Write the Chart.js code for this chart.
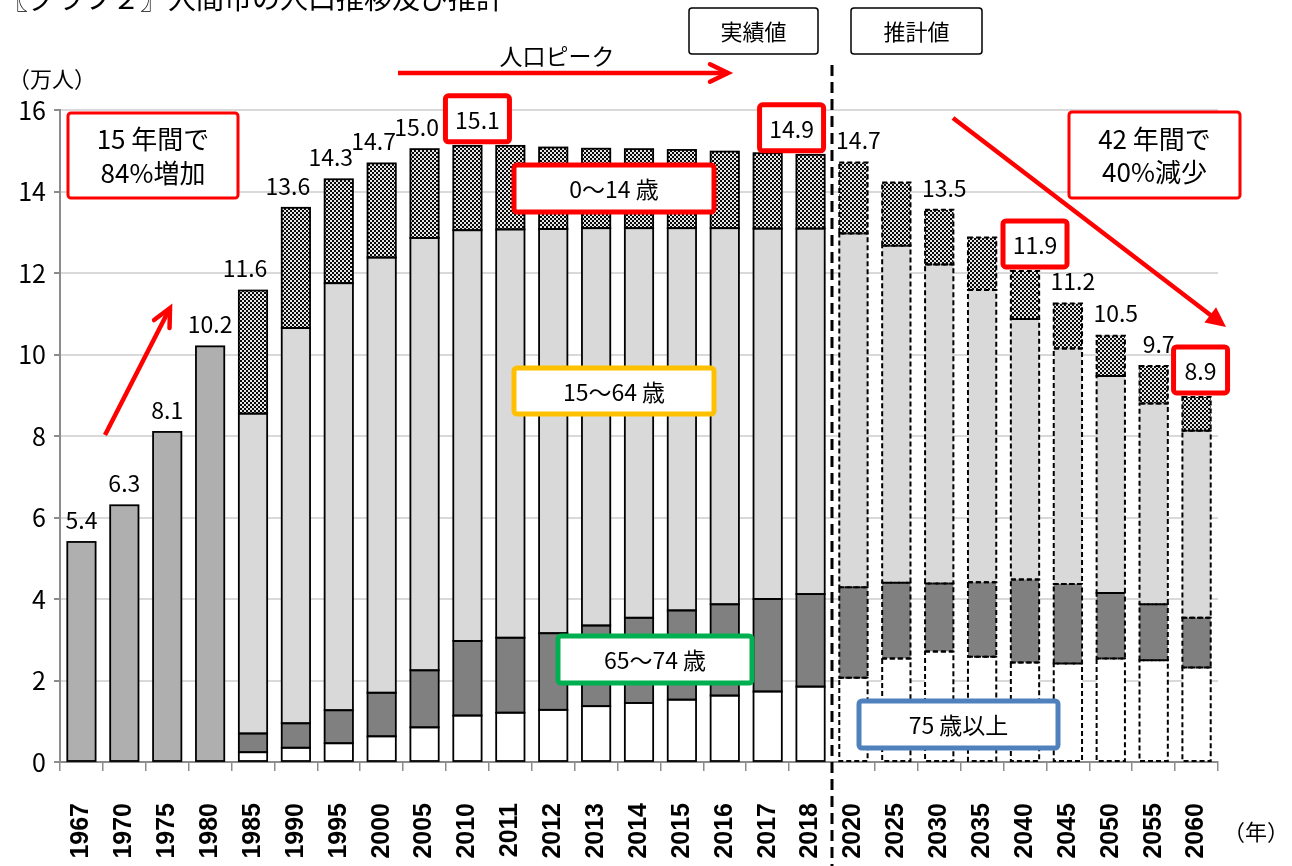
<!DOCTYPE html>
<html lang="ja">
<head>
<meta charset="utf-8">
<title>入間市の人口推移及び推計</title>
<script src="https://cdn.jsdelivr.net/npm/chart.js@4.4.1/dist/chart.umd.min.js"></script>
<style>
  html, body { margin: 0; padding: 0; background: #fff; }
  #wrap { position: relative; width: 1292px; height: 866px; }
</style>
</head>
<body>
<div id="wrap"><canvas id="c"></canvas></div>
<script>
// ---- data (万人) ----
const years = ['1967', '1970', '1975', '1980', '1985', '1990', '1995', '2000', '2005',
  '2010', '2011', '2012', '2013', '2014', '2015', '2016', '2017', '2018',
  '2020', '2025', '2030', '2035', '2040', '2045', '2050', '2055', '2060'];

// totals only, before the age breakdown exists
const totalEarly = [5.4, 6.3, 8.1, 10.2, null, null, null, null, null,
  null, null, null, null, null, null, null, null, null,
  null, null, null, null, null, null, null, null, null];

const age75 = [null, null, null, null, 0.24, 0.35, 0.46, 0.63, 0.85,
  1.14, 1.21, 1.28, 1.37, 1.45, 1.53, 1.63, 1.73, 1.85,
  2.07, 2.54, 2.71, 2.58, 2.44, 2.42, 2.54, 2.50, 2.32];

const age65 = [null, null, null, null, 0.46, 0.60, 0.81, 1.07, 1.40,
  1.83, 1.84, 1.88, 1.98, 2.09, 2.19, 2.24, 2.27, 2.27,
  2.22, 1.86, 1.67, 1.83, 2.04, 1.95, 1.61, 1.37, 1.22];

const age15 = [null, null, null, null, 7.85, 9.70, 10.48, 10.68, 10.61,
  10.08, 10.02, 9.92, 9.75, 9.56, 9.38, 9.23, 9.09, 8.97,
  8.68, 8.27, 7.83, 7.17, 6.39, 5.78, 5.32, 4.93, 4.59];

const age0 = [null, null, null, null, 3.02, 2.95, 2.55, 2.31, 2.18,
  2.07, 2.05, 2.00, 1.95, 1.94, 1.92, 1.88, 1.85, 1.81,
  1.74, 1.55, 1.34, 1.29, 1.18, 1.10, 0.99, 0.92, 0.83];

const totalLabels = ['5.4', '6.3', '8.1', '10.2', '11.6', '13.6', '14.3', '14.7', '15.0',
  '15.1', '', '', '', '', '', '', '', '14.9',
  '14.7', '', '13.5', '', '11.9', '11.2', '10.5', '9.7', '8.9'];

const yTicks = [0, 2, 4, 6, 8, 10, 12, 14, 16];
const firstProjection = 18; // 2020 onwards is 推計値

const JP = '"Noto Sans CJK JP", "Noto Sans", sans-serif';

function checkerPattern(ctx) {
  const c = document.createElement('canvas');
  c.width = 4; c.height = 4;
  const p = c.getContext('2d');
  p.fillStyle = '#e6e6e6';
  p.fillRect(0, 0, 4, 4);
  p.fillStyle = '#0a0a0a';
  p.fillRect(0, 0, 2, 2);
  p.fillRect(2, 2, 2, 2);
  return ctx.createPattern(c, 'repeat');
}

function redArrow(ctx, x1, y1, x2, y2, filled) {
  const a = Math.atan2(y2 - y1, x2 - x1);
  const len = filled ? 22 : 20;
  ctx.save();
  ctx.strokeStyle = '#ff0000';
  ctx.fillStyle = '#ff0000';
  ctx.lineWidth = 4.5;
  ctx.lineCap = 'butt';
  ctx.beginPath();
  ctx.moveTo(x1, y1);
  ctx.lineTo(filled ? x2 - Math.cos(a) * len * 0.8 : x2, filled ? y2 - Math.sin(a) * len * 0.8 : y2);
  ctx.stroke();
  const p1 = [x2 - len * Math.cos(a - 0.45), y2 - len * Math.sin(a - 0.45)];
  const p2 = [x2 - len * Math.cos(a + 0.45), y2 - len * Math.sin(a + 0.45)];
  ctx.beginPath();
  if (filled) {
    ctx.moveTo(x2, y2); ctx.lineTo(p1[0], p1[1]); ctx.lineTo(p2[0], p2[1]); ctx.closePath();
    ctx.fill();
  } else {
    ctx.lineCap = 'round';
    ctx.moveTo(p1[0], p1[1]); ctx.lineTo(x2, y2); ctx.lineTo(p2[0], p2[1]);
    ctx.stroke();
  }
  ctx.restore();
}

function textBox(ctx, x, y, w, h, color, lw, lines, font, lineGap) {
  ctx.save();
  ctx.fillStyle = '#fff';
  ctx.strokeStyle = color;
  ctx.lineWidth = lw;
  ctx.beginPath();
  if (ctx.roundRect) ctx.roundRect(x, y, w, h, 3); else ctx.rect(x, y, w, h);
  ctx.fill();
  ctx.stroke();
  ctx.fillStyle = '#000';
  ctx.font = font;
  ctx.textAlign = 'center';
  ctx.textBaseline = 'middle';
  const n = lines.length;
  lines.forEach((t, k) => {
    ctx.fillText(t, x + w / 2, y + h / 2 + (k - (n - 1) / 2) * lineGap + 1);
  });
  ctx.restore();
}

const overlay = {
  id: 'overlay',
  afterDatasetsDraw(chart) {
    // bar outlines: solid for actual values, dashed for projections
    const ctx = chart.ctx;
    ctx.save();
    ctx.strokeStyle = '#000';
    chart.data.datasets.forEach((ds, di) => {
      const meta = chart.getDatasetMeta(di);
      meta.data.forEach((bar, i) => {
        if (ds.data[i] == null) return;
        const p = bar.getProps(['x', 'y', 'base', 'width'], true);
        const top = Math.min(p.y, p.base);
        const h = Math.abs(p.base - p.y);
        const proj = i >= firstProjection;
        ctx.lineWidth = proj ? 2 : 1.8;
        ctx.setLineDash(proj ? [5, 3] : []);
        ctx.strokeRect(p.x - p.width / 2, top, p.width, h);
      });
    });
    ctx.restore();
  },
  afterDraw(chart) {
    const ctx = chart.ctx;
    const xs = chart.scales.x;

    // 実績 / 推計 separator
    const sepX = (xs.getPixelForValue(firstProjection - 1) + xs.getPixelForValue(firstProjection)) / 2;
    ctx.save();
    ctx.strokeStyle = '#000';
    ctx.lineWidth = 3;
    ctx.setLineDash([11, 6]);
    ctx.beginPath();
    ctx.moveTo(sepX, 65);
    ctx.lineTo(sepX, 866);
    ctx.stroke();
    ctx.restore();

    // total labels above each bar
    const boxed = { 9: 10, 17: -19, 22: 10, 26: 4 };
    years.forEach((yr, i) => {
      const txt = totalLabels[i];
      if (!txt) return;
      let top = Infinity, cx = 0;
      chart.data.datasets.forEach((ds, di) => {
        if (ds.data[i] == null) return;
        const bar = chart.getDatasetMeta(di).data[i];
        top = Math.min(top, bar.y);
        cx = bar.x;
      });
      if (i in boxed) {
        const bx = cx + boxed[i];
        const w = txt.length > 3 ? 64 : 54;
        textBox(ctx, bx - w / 2, top - 50, w, 46, '#ff0000', 5, [txt], '23px ' + JP, 0);
      } else {
        ctx.save();
        ctx.fillStyle = '#000';
        ctx.font = '23px ' + JP;
        ctx.textAlign = 'center';
        ctx.textBaseline = 'middle';
        ctx.fillText(txt, cx - (i >= 4 && i < 9 ? 8 : 0) + (i >= firstProjection ? 5 : 0), top - 22);
        ctx.restore();
      }
    });

    // title (cut at the top edge as in the original)
    ctx.save();
    ctx.fillStyle = '#000';
    ctx.font = '28px ' + JP;
    ctx.textAlign = 'left';
    ctx.textBaseline = 'middle';
    ctx.fillText('〖グラフ２〗入間市の人口推移及び推計', 0, -2);
    ctx.font = '22px ' + JP;
    ctx.fillText('（万人）', 8, 79);
    ctx.textAlign = 'center';
    ctx.fillText('（年）', 1256, 832);
    ctx.font = '23px ' + JP;
    ctx.fillText('人口ピーク', 557, 56);
    ctx.restore();

    textBox(ctx, 689, 8, 129, 46, '#000', 1.5, ['実績値'], '22px ' + JP, 0);
    textBox(ctx, 851, 8, 131, 46, '#000', 1.5, ['推計値'], '22px ' + JP, 0);

    redArrow(ctx, 398, 73, 728, 73, false);
    redArrow(ctx, 105, 435, 170, 308, false);
    redArrow(ctx, 953, 118, 1226, 327, true);

    textBox(ctx, 68, 113, 170, 85, '#ff0000', 3, ['15 年間で', '84%増加'], '26px ' + JP, 34);
    textBox(ctx, 1069, 112, 171, 86, '#ff0000', 3, ['42 年間で', '40%減少'], '26px ' + JP, 33);

    textBox(ctx, 514, 165, 200, 47, '#ff0000', 5, ['0～14 歳'], '23px ' + JP, 0);
    textBox(ctx, 514, 368, 200, 46, '#ffc000', 5, ['15～64 歳'], '23px ' + JP, 0);
    textBox(ctx, 558, 636, 194, 47, '#00b050', 5, ['65～74 歳'], '23px ' + JP, 0);
    textBox(ctx, 859, 701, 199, 47, '#4f81bd', 5, ['75 歳以上'], '23px ' + JP, 0);
  }
};

const canvas = document.getElementById('c');
const ctx = canvas.getContext('2d');
const checker = checkerPattern(ctx);

const barOpts = { borderWidth: 0, barPercentage: 0.66, categoryPercentage: 1, stack: 'pop' };

new Chart(canvas, {
  type: 'bar',
  data: {
    labels: years,
    datasets: [
      { label: '総人口', data: totalEarly, backgroundColor: '#afafaf', ...barOpts },
      { label: '75歳以上', data: age75, backgroundColor: '#ffffff', ...barOpts },
      { label: '65～74歳', data: age65, backgroundColor: '#808080', ...barOpts },
      { label: '15～64歳', data: age15, backgroundColor: '#d9d9d9', ...barOpts },
      { label: '0～14歳', data: age0, backgroundColor: checker, ...barOpts }
    ]
  },
  options: {
    responsive: true,
    maintainAspectRatio: false,
    animation: false,
    devicePixelRatio: 1,
    layout: { padding: { left: 0, right: 74, top: 110, bottom: 0 } },
    plugins: {
      legend: { display: false },
      tooltip: { enabled: false }
    },
    scales: {
      x: {
        stacked: true,
        offset: true,
        grid: { drawOnChartArea: false, offset: true, tickLength: 9, tickColor: '#8c8c8c', lineWidth: 1.5 },
        border: { color: '#8c8c8c', width: 2 },
        ticks: {
          autoSkip: false,
          maxRotation: 90,
          minRotation: 90,
          padding: 32,
          color: '#000',
          font: { family: '"Liberation Sans", Arial, sans-serif', size: 25, weight: 'bold' }
        },
        afterFit(scale) { scale.height = 104; }
      },
      y: {
        stacked: true,
        min: 0,
        max: 16,
        afterBuildTicks(scale) { scale.ticks = yTicks.map(v => ({ value: v })); },
        grid: { color: '#d9d9d9', lineWidth: 2, tickLength: 6, tickColor: '#8c8c8c' },
        border: { color: '#8c8c8c', width: 2 },
        ticks: {
          padding: 8,
          color: '#000',
          font: { family: JP, size: 25 }
        },
        afterFit(scale) { scale.width = 60; }
      }
    }
  },
  plugins: [overlay]
});
</script>
</body>
</html>
